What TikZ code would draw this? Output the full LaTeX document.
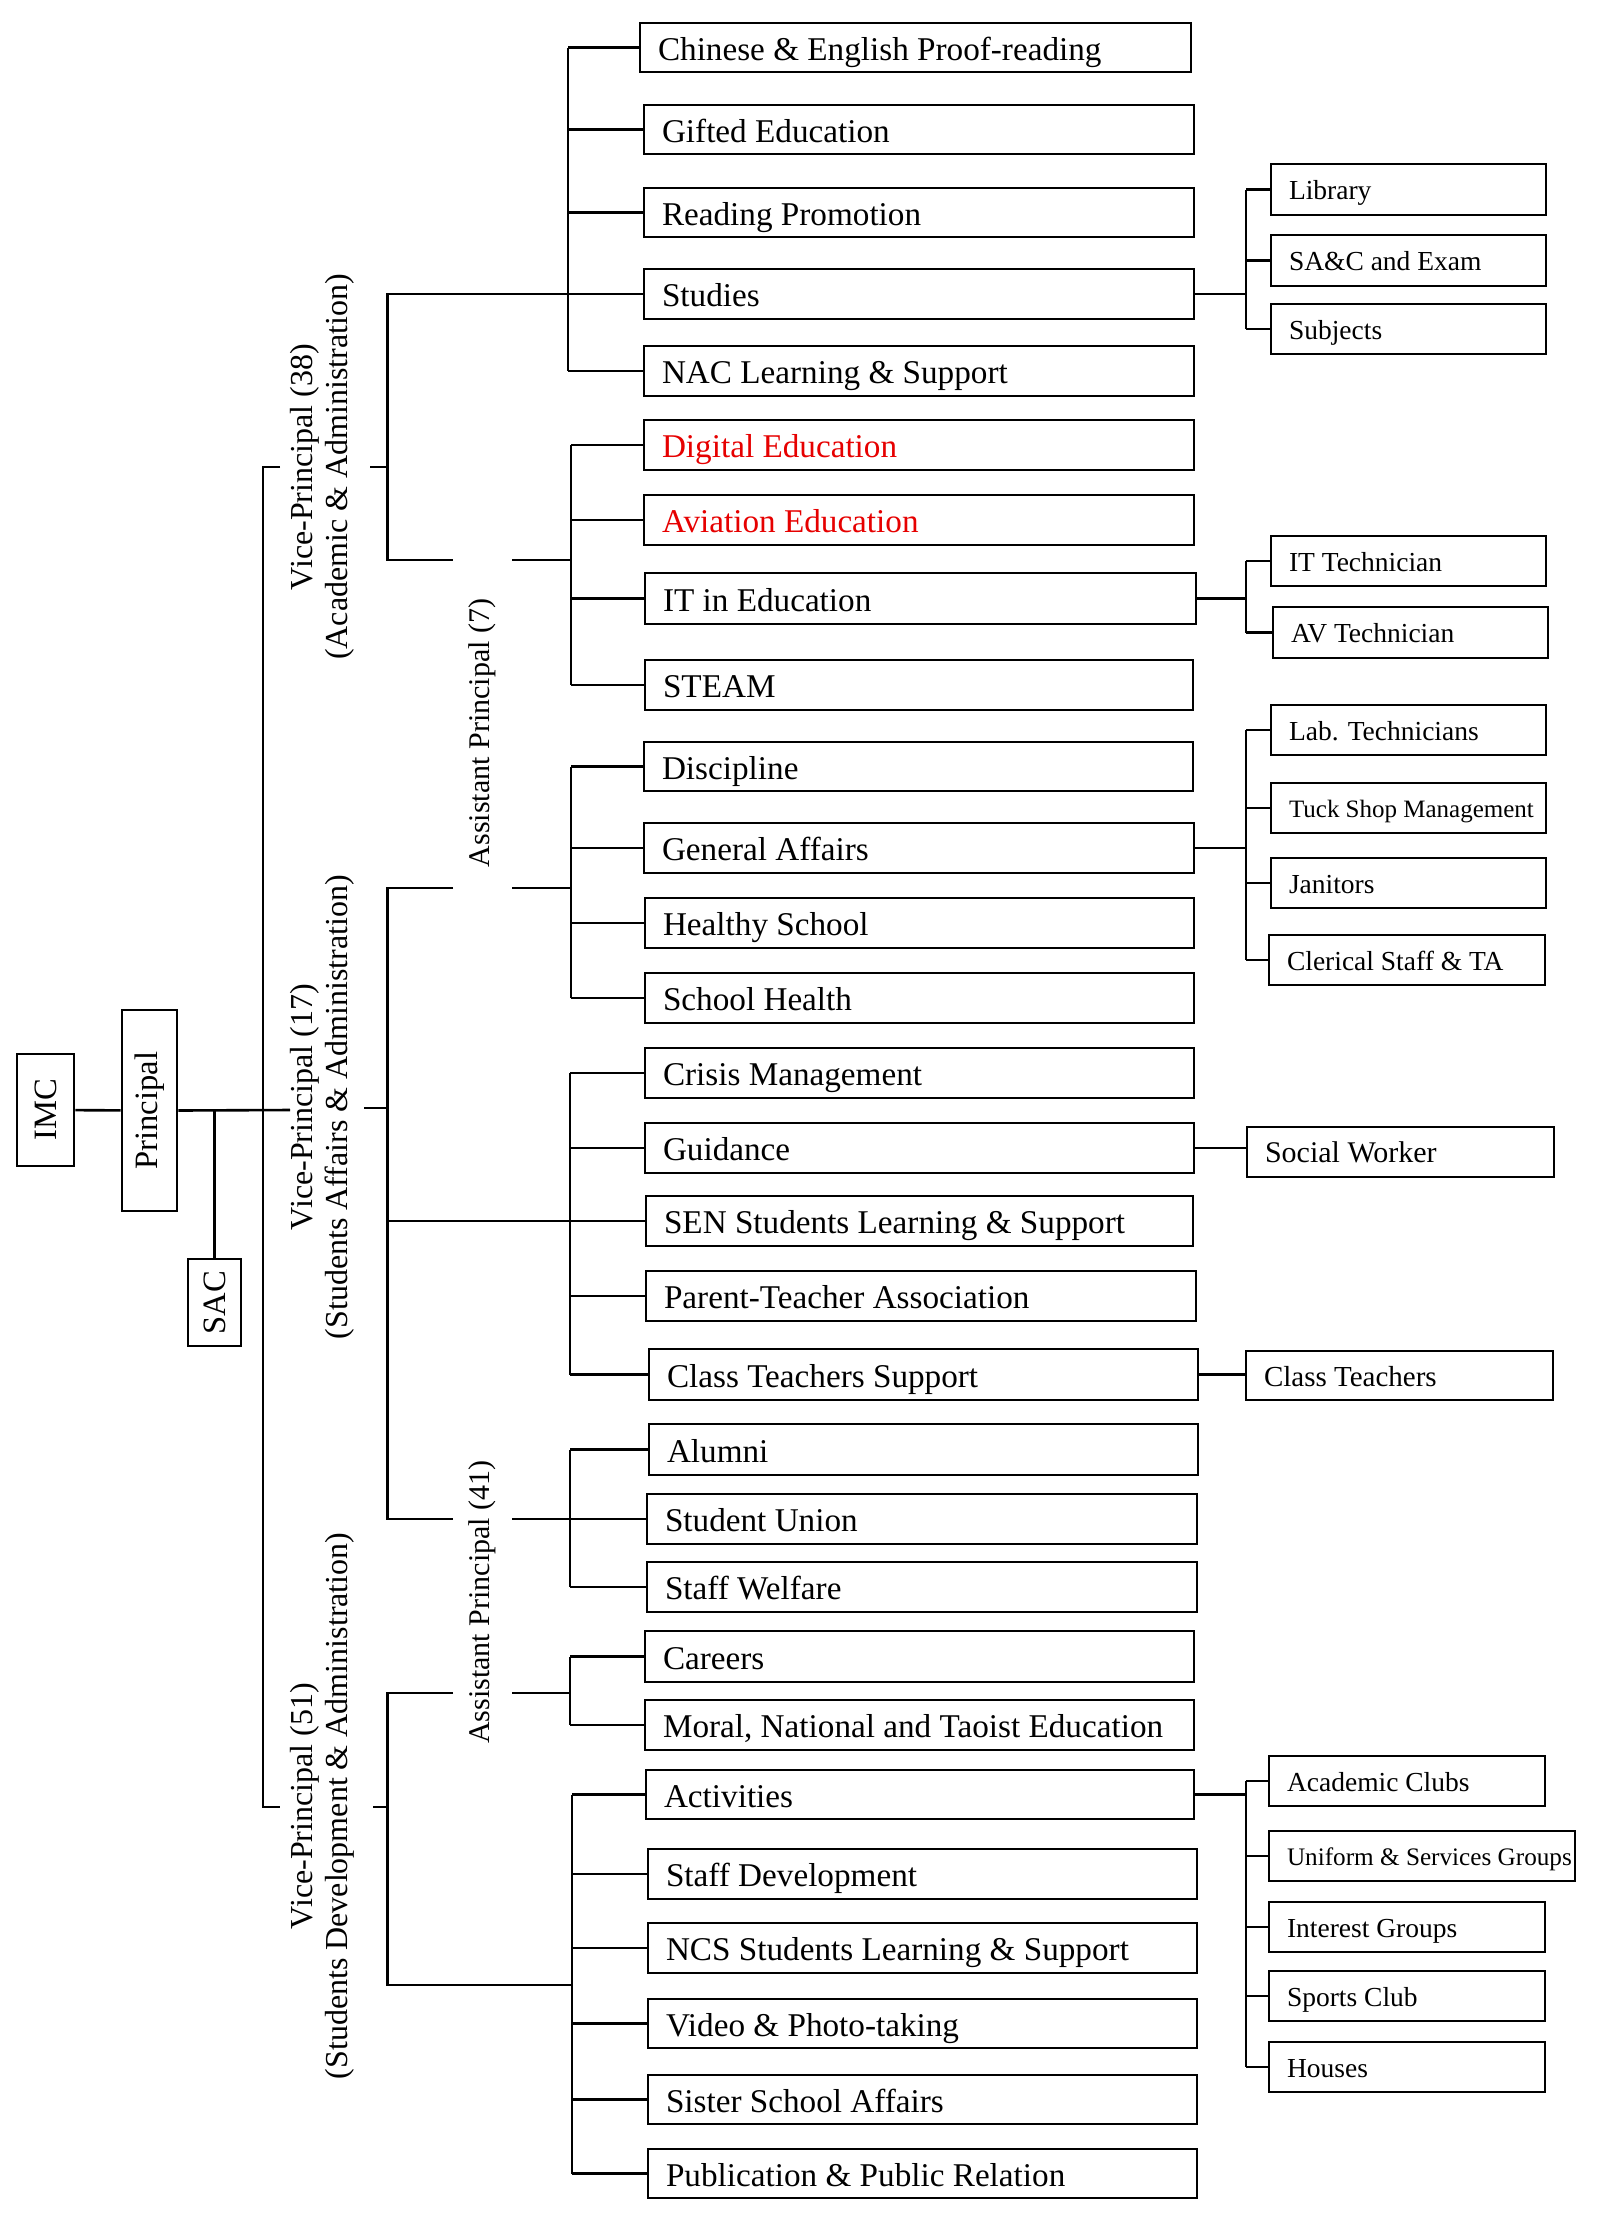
\documentclass[tikz,border=0pt]{standalone}
\usepackage{fontspec}
\setmainfont{Liberation Serif}
\definecolor{redtxt}{RGB}{230,0,0}
\def\dropamt{5.6pt}
\newcommand\orgbox[7][]{%
  \pgfmathsetmacro\bh{(#6-#4)*0.5}%
  \pgfmathsetmacro\tw{(#5-#3)*0.5-18}%
  \node[box,minimum height=\bh pt,inner xsep=9pt,#1] (#2) at ({(#3+#5)/2},{(#4+#6)/2}) {\makebox[\tw pt][l]{\rule[-0.22em]{0pt}{\dimexpr0.88em+\dropamt\relax}#7}};}
\newcommand\rotorgbox[7][]{%
  \pgfmathsetmacro\bw{(#5-#3)*0.5}%
  \pgfmathsetmacro\bh{(#6-#4)*0.5}%
  \node[box,minimum width=\bw pt,minimum height=\bh pt,#1] (#2) at ({(#3+#5)/2},{(#4+#6)/2}) {\rotatebox{90}{#7}};}
\begin{document}
\begin{tikzpicture}[x=0.5pt,y=-0.5pt,line width=1.3pt,
  box/.style={draw,line width=1.3pt,inner sep=0pt},
  mid/.style={font=\fontsize{16.6}{20}\selectfont,/utils/exec={\def\dropamt{5.6pt}}},
  side/.style={font=\fontsize{13.75}{16}\selectfont,/utils/exec={\def\dropamt{4.2pt}}},
  big/.style={font=\fontsize{16.3}{18}\selectfont},
  vplbl/.style={inner sep=0pt,rotate=90,align=center,font=\fontsize{16}{17.5}\selectfont},
  aplbl/.style={inner sep=0pt,rotate=90,font=\fontsize{15}{17}\selectfont},
  red/.style={text=redtxt}]
\useasboundingbox (0,0) rectangle (1611,2222);

% left column
\rotorgbox[big]{imc}{17}{1054}{74}{1166}{IMC}
\rotorgbox[big]{principal}{122}{1010}{177}{1211}{Principal}
\rotorgbox[big]{sac}{188}{1259}{241}{1346}{SAC}

% labels
\node[vplbl] (vp38) at (322,467) {Vice-Principal (38)\\(Academic \& Administration)};
\node[vplbl] (vp17) at (322,1107) {Vice-Principal (17)\\(Students Affairs \& Administration)};
\node[vplbl] (vp51) at (322,1806) {Vice-Principal (51)\\(Students Development \& Administration)};
\node[aplbl] (ap7) at (482,733) {Assistant Principal (7)};
\node[aplbl] (ap41) at (482,1602) {Assistant Principal (41)};

% middle column
\orgbox[mid]{chinese}{640}{23}{1191}{72}{Chinese \& English Proof-reading}
\orgbox[mid]{gifted}{644}{105}{1194}{154}{Gifted Education}
\orgbox[mid]{reading}{644}{188}{1194}{237}{Reading Promotion}
\orgbox[mid]{studies}{644}{269}{1194}{319}{Studies}
\orgbox[mid]{nac}{644}{346}{1194}{396}{NAC Learning \& Support}
\orgbox[mid,red]{digital}{644}{420}{1194}{470}{Digital Education}
\orgbox[mid,red]{aviation}{644}{495}{1194}{545}{Aviation Education}
\orgbox[mid]{itined}{645}{573}{1196}{624}{IT in Education}
\orgbox[mid]{steam}{645}{660}{1193}{710}{STEAM}
\orgbox[mid]{discipline}{644}{742}{1193}{791}{Discipline}
\orgbox[mid]{general}{644}{823}{1194}{873}{General Affairs}
\orgbox[mid]{healthy}{645}{898}{1194}{948}{Healthy School}
\orgbox[mid]{schoolhealth}{645}{973}{1194}{1023}{School Health}
\orgbox[mid]{crisis}{645}{1048}{1194}{1098}{Crisis Management}
\orgbox[mid]{guidance}{645}{1123}{1194}{1173}{Guidance}
\orgbox[mid]{sen}{646}{1196}{1193}{1246}{SEN Students Learning \& Support}
\orgbox[mid]{parent}{646}{1271}{1196}{1321}{Parent-Teacher Association}
\orgbox[mid]{classts}{649}{1349}{1198}{1400}{Class Teachers Support}
\orgbox[mid]{alumni}{649}{1424}{1198}{1475}{Alumni}
\orgbox[mid]{union}{647}{1494}{1197}{1544}{Student Union}
\orgbox[mid]{welfare}{647}{1562}{1197}{1612}{Staff Welfare}
\orgbox[mid]{careers}{645}{1631}{1194}{1682}{Careers}
\orgbox[mid]{moral}{645}{1700}{1194}{1750}{Moral, National and Taoist Education}
\orgbox[mid]{activities}{646}{1770}{1194}{1819}{Activities}
\orgbox[mid]{staffdev}{648}{1849}{1197}{1899}{Staff Development}
\orgbox[mid]{ncs}{648}{1923}{1197}{1973}{NCS Students Learning \& Support}
\orgbox[mid]{video}{648}{1999}{1197}{2048}{Video \& Photo-taking}
\orgbox[mid]{sister}{648}{2075}{1197}{2124}{Sister School Affairs}
\orgbox[mid]{pub}{648}{2149}{1197}{2198}{Publication \& Public Relation}

% right column
\orgbox[side]{library}{1271}{164}{1546}{215}{Library}
\orgbox[side]{saxc}{1271}{235}{1546}{286}{SA\&C and Exam}
\orgbox[side]{subjects}{1271}{304}{1546}{354}{Subjects}
\orgbox[side]{ittech}{1271}{536}{1546}{586}{IT Technician}
\orgbox[side]{avtech}{1273}{607}{1548}{658}{AV Technician}
\orgbox[side]{labtech}{1271}{705}{1546}{755}{Lab. Technicians}
\orgbox[side,font=\fontsize{12.5}{15}\selectfont]{tuck}{1271}{783}{1546}{833}{Tuck Shop Management}
\orgbox[side]{janitors}{1271}{858}{1546}{908}{Janitors}
\orgbox[side]{clerical}{1269}{935}{1545}{985}{Clerical Staff \& TA}
\orgbox[side,font=\fontsize{15}{18}\selectfont]{social}{1247}{1127}{1554}{1177}{Social Worker}
\orgbox[side,font=\fontsize{14.5}{17}\selectfont]{classteachers}{1246}{1351}{1553}{1400}{Class Teachers}
\orgbox[side]{academic}{1269}{1756}{1545}{1806}{Academic Clubs}
\orgbox[side,font=\fontsize{12.6}{15}\selectfont]{uniform}{1269}{1831}{1575}{1881}{Uniform \& Services Groups}
\orgbox[side]{interest}{1269}{1902}{1545}{1952}{Interest Groups}
\orgbox[side]{sports}{1269}{1971}{1545}{2021}{Sports Club}
\orgbox[side]{houses}{1269}{2042}{1545}{2092}{Houses}

% coordinates
\coordinate (xj) at (387.5,0);
\coordinate (x1) at (568,0);
\coordinate (x2) at (571,0);
\coordinate (x3) at (571,0);
\coordinate (x4) at (570,0);
\coordinate (x5) at (570,0);
\coordinate (x6) at (570,0);
\coordinate (x7) at (572,0);
\coordinate (xr) at (1246,0);
\coordinate (vpL17) at (290,1110);
\coordinate (mtop) at (263,467);
\coordinate (mbot) at (263,1807);
\coordinate (vpL38) at (280,467);
\coordinate (vpL51) at (280,1807);
\coordinate (vpR38) at (370,467);
\coordinate (vpR17) at (364,1108);
\coordinate (vpR51) at (373,1807);
\coordinate (ap7u) at (453,560);
\coordinate (ap7uR) at (512,560);
\coordinate (ap7l) at (453,888);
\coordinate (ap7lR) at (512,888);
\coordinate (ap41u) at (453,1519);
\coordinate (ap41uR) at (512,1519);
\coordinate (ap41l) at (453,1693);
\coordinate (ap41lR) at (512,1693);
\coordinate (j51) at (387.5,1985);

% top-level connectors
\draw (imc) -- (principal);
\draw (principal.east) -- (vpL17);
\draw (sac.north) -- (sac.north |- principal.east);
\draw (vpL38) -- (mtop) -- (mbot) -- (vpL51);

% VP38
\draw (vpR38) -- (vpR38 -| xj);
\draw (studies.west) -- (studies.west -| xj) -- (ap7u -| xj) -- (ap7u);
\draw (ap7uR) -- (ap7uR -| x2);

% VP17
\draw (vpR17) -- (vpR17 -| xj);
\draw (ap7l) -- (ap7l -| xj) -- (ap41u -| xj) -- (ap41u);
\draw (ap7lR) -- (ap7lR -| x3);
\draw (ap41uR) -- (ap41uR -| x5);
\draw (sen.west -| xj) -- (sen.west);

% VP51
\draw (vpR51) -- (vpR51 -| xj);
\draw (ap41l) -- (ap41l -| xj) -- (j51) -- (j51 -| x7);
\draw (ap41lR) -- (ap41lR -| x6);

% groups
\foreach \n in {chinese,gifted,reading,studies,nac} \draw (\n.west) -- (\n.west -| x1);
\draw (chinese.west -| x1) -- (nac.west -| x1);
\foreach \n in {digital,aviation,itined,steam} \draw (\n.west) -- (\n.west -| x2);
\draw (digital.west -| x2) -- (steam.west -| x2);
\foreach \n in {discipline,general,healthy,schoolhealth} \draw (\n.west) -- (\n.west -| x3);
\draw (discipline.west -| x3) -- (schoolhealth.west -| x3);
\foreach \n in {crisis,guidance,sen,parent,classts} \draw (\n.west) -- (\n.west -| x4);
\draw (crisis.west -| x4) -- (classts.west -| x4);
\foreach \n in {alumni,union,welfare} \draw (\n.west) -- (\n.west -| x5);
\draw (alumni.west -| x5) -- (welfare.west -| x5);
\foreach \n in {careers,moral} \draw (\n.west) -- (\n.west -| x6);
\draw (careers.west -| x6) -- (moral.west -| x6);
\foreach \n in {activities,staffdev,ncs,video,sister,pub} \draw (\n.west) -- (\n.west -| x7);
\draw (activities.west -| x7) -- (pub.west -| x7);

% right brackets
\draw (studies.east) -- (studies.east -| xr);
\foreach \n in {library,saxc,subjects} \draw (\n.west) -- (\n.west -| xr);
\draw (library.west -| xr) -- (subjects.west -| xr);
\draw (itined.east) -- (itined.east -| xr);
\foreach \n in {ittech,avtech} \draw (\n.west) -- (\n.west -| xr);
\draw (ittech.west -| xr) -- (avtech.west -| xr);
\draw (general.east) -- (general.east -| xr);
\foreach \n in {labtech,tuck,janitors,clerical} \draw (\n.west) -- (\n.west -| xr);
\draw (labtech.west -| xr) -- (clerical.west -| xr);
\draw (guidance.east) -- (guidance.east -| social.west);
\draw (classts.east) -- (classts.east -| classteachers.west);
\draw (activities.east) -- (activities.east -| xr);
\foreach \n in {academic,uniform,interest,sports,houses} \draw (\n.west) -- (\n.west -| xr);
\draw (academic.west -| xr) -- (houses.west -| xr);
\end{tikzpicture}
\end{document}
